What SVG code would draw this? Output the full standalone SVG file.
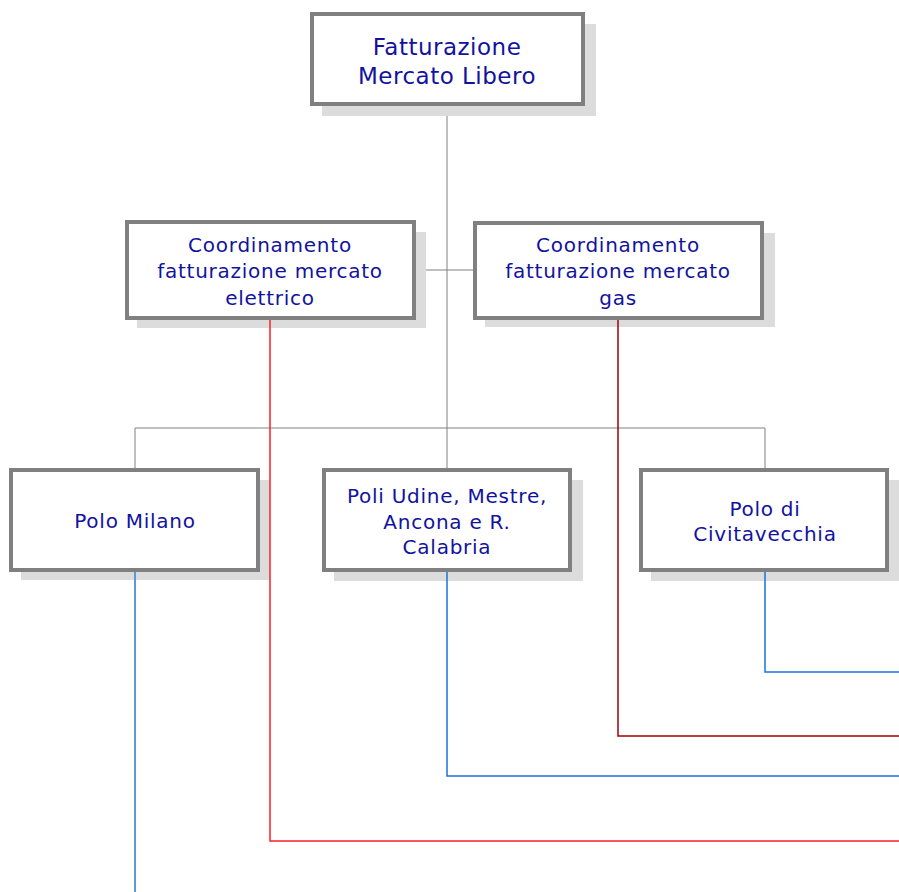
<svg xmlns="http://www.w3.org/2000/svg" width="899" height="892" viewBox="0 0 899 892">
<style>
.sh{fill:#dcdcdc}
.bx{fill:#fff;stroke:#808080;stroke-width:4}
.t{font-family:"DejaVu Sans",Verdana,sans-serif;fill:#1212a0;text-anchor:middle}
.t1{font-size:23px;letter-spacing:0.5px}
.t2{font-size:20px;letter-spacing:0.75px}
.g{fill:none;stroke:#808080;stroke-width:1}
.bl{fill:none;stroke:#1a73e0;stroke-width:1.5}
.bl2{fill:none;stroke:#5b9bd5;stroke-width:2}
.rd{fill:none;stroke:#ff2020;stroke-width:1.5}
.dr{fill:none;stroke:#a00000;stroke-width:1.5}
</style>
<rect width="899" height="892" fill="#fff"/>
<g id="connectors">
<path class="g" d="M447,105V428M414,270H475M135,428H765M135,428V470M447,428V470M765,428V470"/>
</g>
<g id="n-top">
<rect class="sh" x="322" y="24" width="274" height="92"/>
<rect class="bx" x="312" y="14" width="271" height="90"/>
<text class="t t1" x="447" y="55">Fatturazione</text>
<text class="t t1" x="447" y="84">Mercato Libero</text>
</g>
<g id="n-elettrico">
<rect class="sh" x="137" y="232" width="289" height="96"/>
<rect class="bx" x="127" y="222" width="287" height="96"/>
<text class="t t2" x="270" y="252">Coordinamento</text>
<text class="t t2" x="270" y="278">fatturazione mercato</text>
<text class="t t2" x="270" y="305">elettrico</text>
</g>
<g id="n-gas">
<rect class="sh" x="485" y="233" width="290" height="94"/>
<rect class="bx" x="475" y="223" width="287" height="95"/>
<text class="t t2" x="618" y="252">Coordinamento</text>
<text class="t t2" x="618" y="278">fatturazione mercato</text>
<text class="t t2" x="618" y="305">gas</text>
</g>
<g id="n-milano">
<rect class="sh" x="21" y="480" width="249" height="100"/>
<rect class="bx" x="11" y="470" width="247" height="100"/>
<text class="t t2" x="135" y="528">Polo Milano</text>
</g>
<g id="n-udine">
<rect class="sh" x="334" y="480" width="249" height="101"/>
<rect class="bx" x="324" y="470" width="246" height="100"/>
<text class="t t2" x="447" y="503">Poli Udine, Mestre,</text>
<text class="t t2" x="447" y="529">Ancona e R.</text>
<text class="t t2" x="447" y="554">Calabria</text>
</g>
<g id="n-civitavecchia">
<rect class="sh" x="651" y="480" width="248" height="101"/>
<rect class="bx" x="641" y="470" width="246" height="100"/>
<text class="t t2" x="765" y="516">Polo di</text>
<text class="t t2" x="765" y="541">Civitavecchia</text>
</g>
<g id="connectors-colored">
<path class="bl" d="M765,572V672H899"/>
<path class="dr" d="M618,320V736H899"/>
<path class="bl" d="M447,572V776H899"/>
<path class="rd" d="M270,320V841H899"/>
<path class="bl2" d="M135,572V892"/>
</g>
</svg>
